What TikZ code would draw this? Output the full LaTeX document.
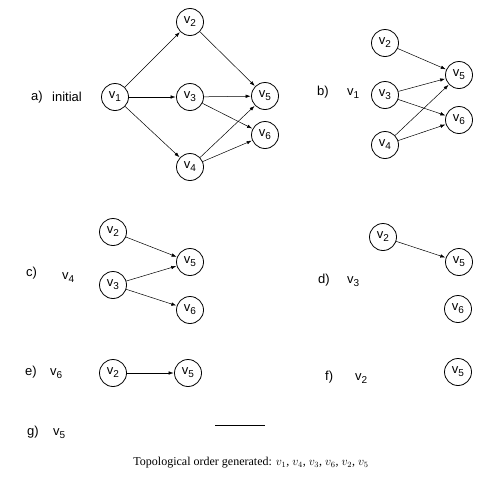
\documentclass[tikz,border=0pt]{standalone}
\usepackage{fontspec}
\setmainfont{Liberation Serif}
\newfontfamily\lblfont{Liberation Sans}
\usepackage{tikz}
\usetikzlibrary{arrows.meta}
\newcommand{\vsub}[1]{v\raisebox{-0.45ex}{\fontsize{10}{12}\selectfont #1}}
\tikzset{
  vert/.style={draw, circle, line width=0.8pt, minimum size=27pt, inner sep=0pt, font=\lblfont\fontsize{13}{15}\selectfont},
  lbl/.style={anchor=west, inner sep=0pt, font=\lblfont\fontsize{13}{15}\selectfont},
  arc/.style={-{Latex[length=5pt,width=3.5pt]}, line width=0.5pt, shorten >=0.5pt}
}

\begin{document}
\begin{tikzpicture}[x=1pt,y=-1pt]
\useasboundingbox (0,0) rectangle (497,490);

% a) initial
\node[lbl] (la) at (31,97) {a)};
\node[lbl] (lav) at (52,97) {initial};
\node[vert] (a1) at (115,97) {\vsub{1}};
\node[vert] (a2) at (190,22) {\vsub{2}};
\node[vert] (a3) at (190,97) {\vsub{3}};
\node[vert] (a4) at (190,167) {\vsub{4}};
\node[vert] (a5) at (265,96) {\vsub{5}};
\node[vert] (a6) at (265,135) {\vsub{6}};
\draw[arc] (a1) -- (a2);
\draw[arc] (a1) -- (a3);
\draw[arc] (a1) -- (a4);
\draw[arc] (a2) -- (a5);
\draw[arc] (a3) -- (a5);
\draw[arc] (a3) -- (a6);
\draw[arc] (a4) -- (a5);
\draw[arc] (a4) -- (a6);

% b) v1
\node[lbl] (lb) at (317,92) {b)};
\node[lbl] (lbv) at (347,94) {\vsub{1}};
\node[vert] (b2) at (385,43) {\vsub{2}};
\node[vert] (b3) at (385,95) {\vsub{3}};
\node[vert] (b4) at (385,145) {\vsub{4}};
\node[vert] (b5) at (459,75) {\vsub{5}};
\node[vert] (b6) at (459,120) {\vsub{6}};
\draw[arc] (b2) -- (b5);
\draw[arc] (b3) -- (b5);
\draw[arc] (b3) -- (b6);
\draw[arc] (b4) -- (b5);
\draw[arc] (b4) -- (b6);

% c) v4
\node[lbl] (lc) at (26,273) {c)};
\node[lbl] (lcv) at (62,278) {\vsub{4}};
\node[vert] (c2) at (113,232) {\vsub{2}};
\node[vert] (c3) at (113,285) {\vsub{3}};
\node[vert] (c5) at (190,262) {\vsub{5}};
\node[vert] (c6) at (190,310) {\vsub{6}};
\draw[arc] (c2) -- (c5);
\draw[arc] (c3) -- (c5);
\draw[arc] (c3) -- (c6);

% d) v3
\node[lbl] (ld) at (318,280) {d)};
\node[lbl] (ldv) at (347,282) {\vsub{3}};
\node[vert] (d2) at (383,237) {\vsub{2}};
\node[vert] (d5) at (459,262) {\vsub{5}};
\node[vert] (d6) at (458,309) {\vsub{6}};
\draw[arc] (d2) -- (d5);

% e) v6
\node[lbl] (le) at (25,372) {e)};
\node[lbl] (lev) at (50,374) {\vsub{6}};
\node[vert] (e2) at (113,373) {\vsub{2}};
\node[vert] (e5) at (188,373) {\vsub{5}};
\draw[arc] (e2) -- (e5);

% f) v2
\node[lbl] (lf) at (325,377) {f)};
\node[lbl] (lfv) at (355,379) {\vsub{2}};
\node[vert] (f5) at (458,372) {\vsub{5}};

% g) v5
\node[lbl] (lg) at (27,432) {g)};
\node[lbl] (lgv) at (53,434) {\vsub{5}};
\coordinate (gl) at (215,425);
\coordinate (gr) at (265,425);
\draw[line width=0.8pt] (gl) -- (gr);

\node[font=\fontsize{12}{14}\selectfont] (cap) at (251,463)
  {Topological order generated: $v_1$, $v_4$, $v_3$, $v_6$, $v_2$, $v_5$};
\end{tikzpicture}
\end{document}
